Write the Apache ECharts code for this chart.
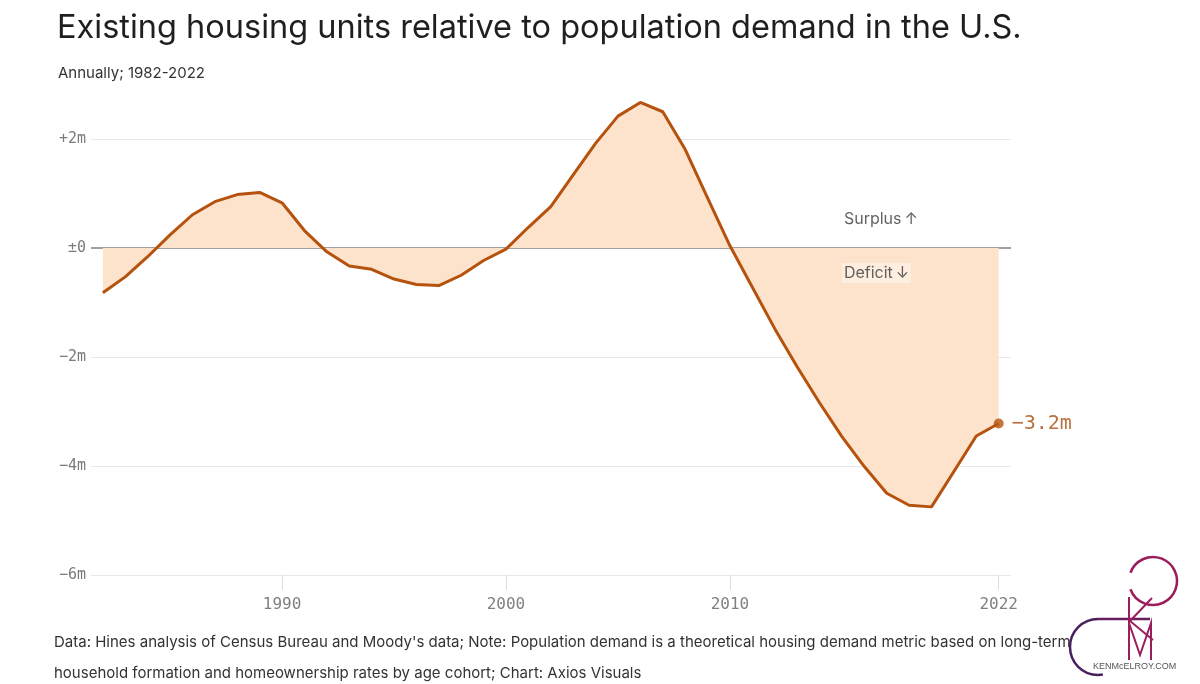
<!DOCTYPE html>
<html><head><meta charset="utf-8">
<script src="https://cdn.jsdelivr.net/npm/echarts@6/dist/echarts.min.js"></script>
<style>html,body{margin:0;padding:0;background:#fff}#c{width:1200px;height:684px}</style>
</head><body><div id="c"></div>
<script>
const years = [1982,1983,1984,1985,1986,1987,1988,1989,1990,1991,1992,1993,1994,1995,1996,1997,1998,1999,2000,2001,2002,2003,2004,2005,2006,2007,2008,2009,2010,2011,2012,2013,2014,2015,2016,2017,2018,2019,2020,2021,2022];
const values = [-0.82,-0.53,-0.16,0.24,0.61,0.85,0.98,1.02,0.83,0.32,-0.07,-0.33,-0.39,-0.57,-0.67,-0.69,-0.50,-0.23,-0.02,0.38,0.76,1.34,1.92,2.42,2.67,2.50,1.81,0.92,0.04,-0.72,-1.48,-2.18,-2.84,-3.46,-4.01,-4.50,-4.72,-4.75,-4.10,-3.45,-3.22];
const xTickYears = [1990,2000,2010,2022];
const yTickValues = [-6,-4,-2,0,2];
const annotations = [
  {year: 2015, value: 0.53, text: 'Surplus\u2009\u2191'},
  {year: 2015, value: -0.46, text: 'Deficit\u2009\u2193'}
];
const titleText = 'Existing housing units relative to population demand in the U.S.';
const subtitleText = 'Annually; 1982-2022';
const footer1 = "Data: Hines analysis of Census Bureau and Moody's data; Note: Population demand is a theoretical housing demand metric based on long-term";
const footer2 = 'household formation and homeownership rates by age cohort; Chart: Axios Visuals';

const LINE = '#b5520e';
const FILL = '#fde3cc';
const MONO = '"DejaVu Sans Mono", monospace';
const SANS = 'Inter, "Noto Sans", sans-serif';

function fmtM(v){
  if (v === 0) return '\u00b10';
  const s = Math.abs(v).toFixed(Number.isInteger(v) ? 0 : 1);
  return (v > 0 ? '+' : '\u2212') + s + 'm';
}

const chart = echarts.init(document.getElementById('c'), null, {renderer: 'canvas'});
const last = values.length - 1;

chart.setOption({
  backgroundColor: '#fff',
  animation: false,
  title: [
    {text: titleText, left: 52, top: 7, textStyle: {fontFamily: SANS, fontSize: 32.5, fontWeight: 400, color: '#1f1f1f'}},
    {text: subtitleText, left: 53, top: 61, textStyle: {fontFamily: SANS, fontSize: 15, fontWeight: 400, color: '#333'}}
  ],
  grid: {left: 91, right: 189, top: 139, bottom: 109},
  xAxis: {
    type: 'value', min: 1981.47, max: 2022.55,
    axisLine: {show: false, onZero: false},
    splitLine: {show: false},
    axisTick: {show: true, customValues: xTickYears, length: 15, lineStyle: {color: '#dcdcdc', width: 1}},
    axisLabel: {customValues: xTickYears, margin: 22, fontFamily: MONO, fontSize: 16, color: '#808080', formatter: v => String(v)}
  },
  yAxis: {
    type: 'value', min: -6, max: 2, interval: 2,
    axisLine: {show: false}, axisTick: {show: false},
    splitLine: {lineStyle: {color: '#e8e8e8', width: 1}},
    axisLabel: {margin: 5, fontFamily: MONO, fontSize: 15, color: '#7a7a7a', formatter: v => fmtM(v)}
  },
  series: [
    {
      type: 'line', clip: false, smooth: false, symbol: 'none',
      data: years.map((y, i) => [y, values[i]]),
      lineStyle: {color: LINE, width: 3},
      areaStyle: {color: FILL, opacity: 1},
      z: 3,
      markLine: {
        silent: true, symbol: 'none', label: {show: false},
        lineStyle: {color: '#a0a0a0', width: 2, type: 'solid'},
        data: [{yAxis: 0}],
        z: 2
      }
    },
    {
      type: 'scatter', clip: false,
      data: [[years[last], values[last]]],
      symbol: 'circle', symbolSize: 10,
      itemStyle: {color: LINE},
      label: {show: true, position: 'right', distance: 8, fontFamily: MONO, fontSize: 20, color: '#a84c0d',
        formatter: p => fmtM(Math.round(p.value[1] * 10) / 10)},
      z: 5
    },
    {
      type: 'scatter', clip: false, symbolSize: 0,
      data: annotations.map((a, i) => ({value: [a.year, a.value], name: a.text,
        label: {backgroundColor: i === 1 ? 'rgba(255,255,255,0.5)' : 'transparent'}})),
      label: {show: true, position: 'right', distance: 0, fontFamily: SANS, fontSize: 16, color: '#3a3a3a',
        padding: [2, 2], formatter: p => p.name},
      z: 6
    }
  ],
  graphic: [
    {type: 'text', left: 54, top: 635, style: {text: footer1, font: '15px ' + SANS, fill: '#333'}},
    {type: 'text', left: 54, top: 666, style: {text: footer2, font: '15px ' + SANS, fill: '#333'}},
    {type: 'group', z: 100, children: [
      {type: 'arc', shape: {cx: 1153, cy: 581, r: 24, startAngle: 200 * Math.PI / 180, endAngle: 520 * Math.PI / 180, clockwise: true},
        style: {stroke: '#9b1d5c', lineWidth: 2.5, fill: null}},
      {type: 'arc', shape: {cx: 1098, cy: 647, r: 28, startAngle: 270 * Math.PI / 180, endAngle: 80 * Math.PI / 180, clockwise: false},
        style: {stroke: '#4a1f5e', lineWidth: 2.5, fill: null}},
      {type: 'line', shape: {x1: 1098, y1: 619, x2: 1150, y2: 619}, style: {stroke: '#6a1d5e', lineWidth: 2.5}},
      {type: 'polyline', shape: {points: [[1129, 597], [1129, 640]]}, style: {stroke: '#9b1d5c', lineWidth: 2, fill: null}},
      {type: 'polyline', shape: {points: [[1152, 598], [1130, 621], [1153, 640]]}, style: {stroke: '#9b1d5c', lineWidth: 2, fill: null}},
      {type: 'polyline', shape: {points: [[1129, 660], [1129, 623], [1140, 655], [1151, 623], [1151, 660]]}, style: {stroke: '#9b1d5c', lineWidth: 2, fill: null}},
      {type: 'text', left: 1093, top: 662, style: {text: 'KENMcELROY.COM', font: '9px "Liberation Sans", sans-serif', fill: '#555'}}
    ]}
  ]
});
</script>
</body></html>
